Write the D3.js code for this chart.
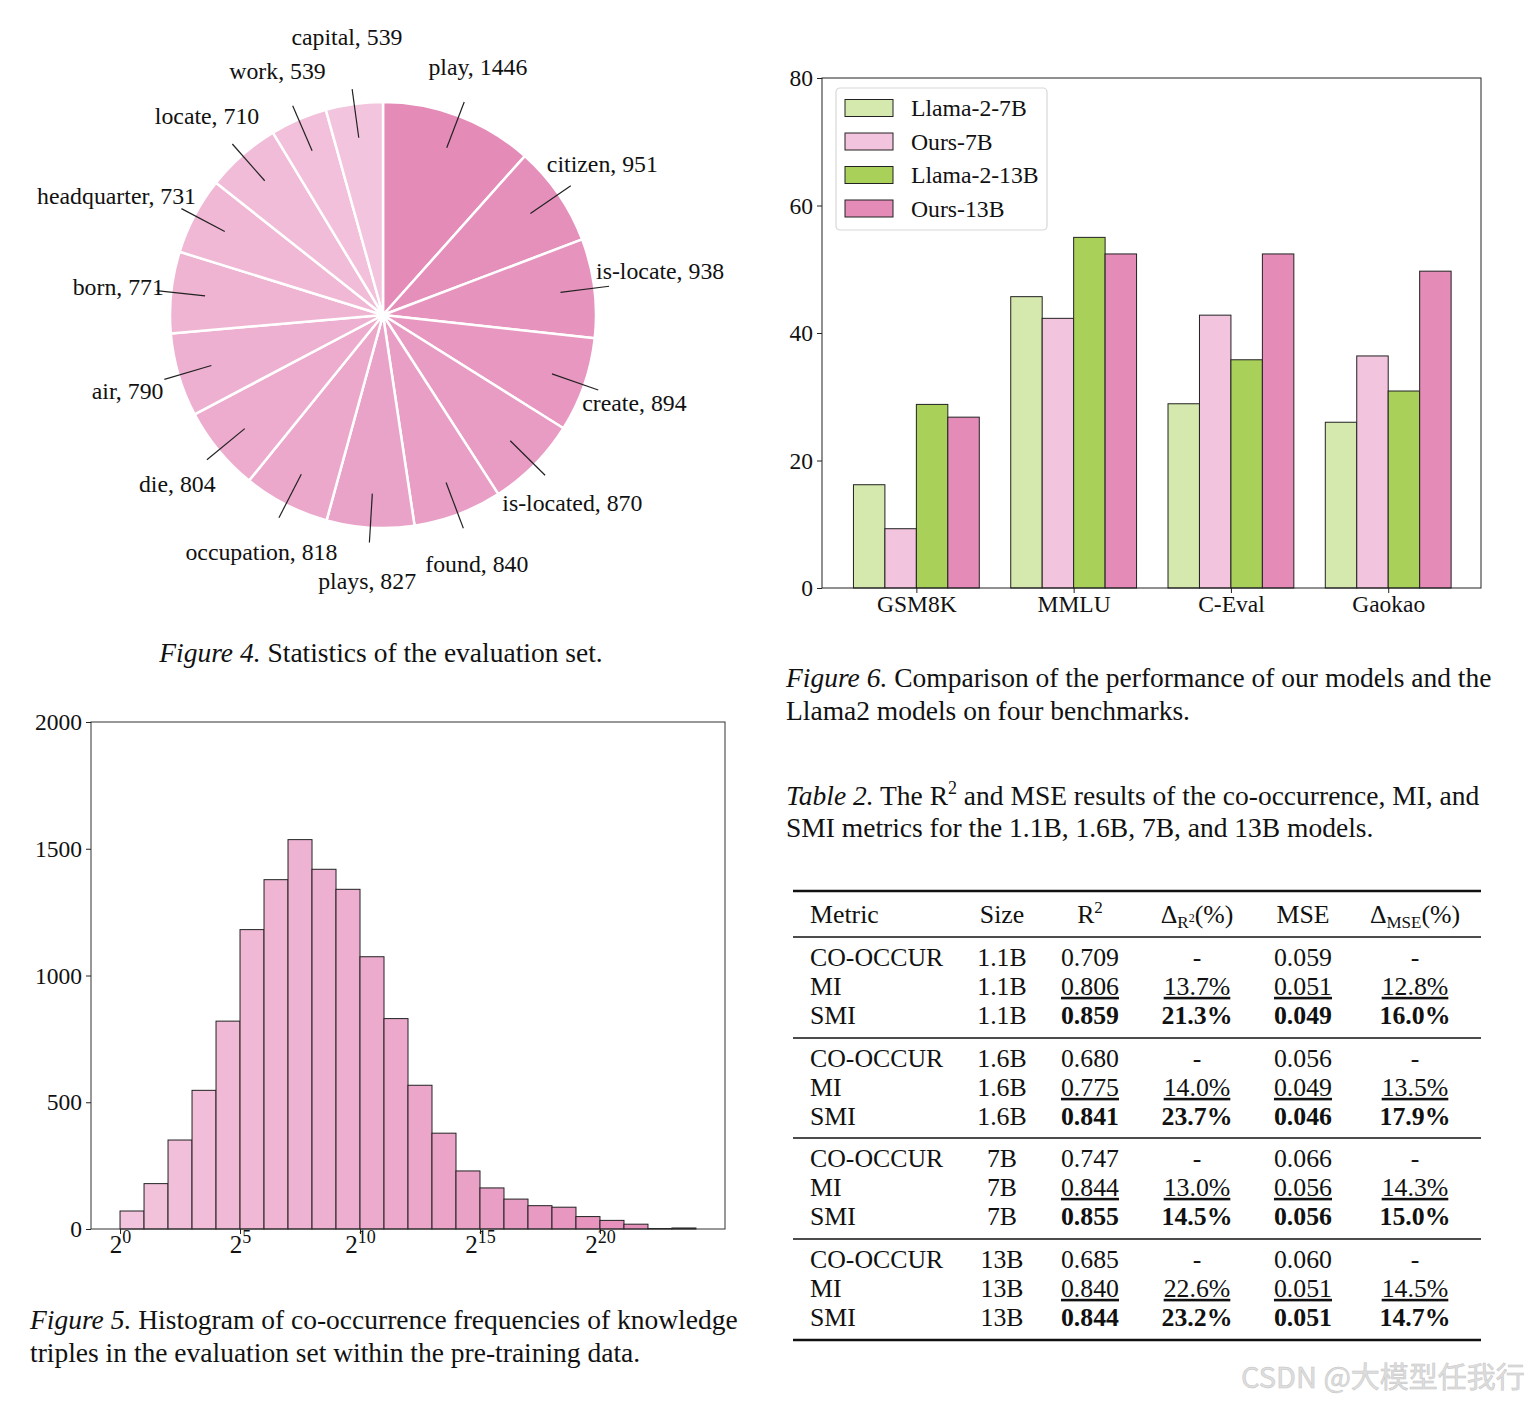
<!DOCTYPE html>
<html>
<head>
<meta charset="utf-8">
<script src="https://cdn.jsdelivr.net/npm/d3@7"></script>
<style>
  body { margin: 0; background: #fff; }
  text { font-family: "Liberation Serif", "Times New Roman", serif; fill: #111; }
</style>
</head>
<body>
<div id="d3id"></div>
<script>
// Figure 4 data
var pieLabels = ["play", "citizen", "is-locate", "create", "is-located", "found", "plays",
  "occupation", "die", "air", "born", "headquarter", "locate", "work", "capital"];
var pieValues = [1446, 951, 938, 894, 870, 840, 827, 818, 804, 790, 771, 731, 710, 539, 539];

// Figure 6 data
var benchmarks = ["GSM8K", "MMLU", "C-Eval", "Gaokao"];
var seriesNames = ["Llama-2-7B", "Ours-7B", "Llama-2-13B", "Ours-13B"];
var llama7 = [16.2, 45.7, 28.9, 26.0];
var ours7 = [9.3, 42.3, 42.8, 36.4];
var llama13 = [28.8, 55.0, 35.8, 30.9];
var ours13 = [26.8, 52.4, 52.4, 49.7];
var barTicks = [0, 20, 40, 60, 80];

// Figure 5 data (bins are [2^k, 2^(k+1)))
var histExp = [0, 1, 2, 3, 4, 5, 6, 7, 8, 9, 10, 11, 12, 13, 14, 15, 16, 17, 18, 19, 20, 21, 22, 23];
var histCounts = [71, 179, 351, 547, 820, 1181, 1378, 1536, 1419, 1340, 1074, 830, 567, 378,
  229, 162, 118, 92, 86, 49, 34, 19, 2, 4];
var histYTicks = [0, 500, 1000, 1500, 2000];
var histXTicks = [0, 5, 10, 15, 20];

// Table 2 data
var tableMetrics = ["CO-OCCUR", "MI", "SMI"];
var tableSizes = ["1.1B", "1.6B", "7B", "13B"];
var tableR2 = [["0.709", "0.806", "0.859"], ["0.680", "0.775", "0.841"], ["0.747", "0.844", "0.855"], ["0.685", "0.840", "0.844"]];
var tableDR2 = [["-", "13.7%", "21.3%"], ["-", "14.0%", "23.7%"], ["-", "13.0%", "14.5%"], ["-", "22.6%", "23.2%"]];
var tableMSE = [["0.059", "0.051", "0.049"], ["0.056", "0.049", "0.046"], ["0.066", "0.056", "0.056"], ["0.060", "0.051", "0.051"]];
var tableDMSE = [["-", "12.8%", "16.0%"], ["-", "13.5%", "17.9%"], ["-", "14.3%", "15.0%"], ["-", "14.5%", "14.7%"]];

var pinkDark = "#e48bb8", pinkLight = "#f3c4dd";
var barColors = ["#d5e8ae", "#f3c4dd", "#a9d15a", "#e48bb8"];
var capSize = 27.5, tickSize = 23.5;

var svg = d3.select("#d3id")
  .append("svg")
  .attr("width", 1534)
  .attr("height", 1403);

svg.append("rect").attr("width", 1534).attr("height", 1403).attr("fill", "#fff");

/* ---------- Figure 4: pie ---------- */
var pieCx = 383, pieCy = 315, pieR = 213;
var labelNudge = { "capital": [0, -15], "headquarter": [-31, 5], "is-locate": [13, -11] };

var pieColor = d3.scaleLinear()
  .domain([0, pieValues.length - 1])
  .range([pinkDark, pinkLight])
  .interpolate(d3.interpolateRgb);

var arcs = d3.pie().sort(null)(pieValues);
var arcGen = d3.arc().innerRadius(0).outerRadius(pieR);

var pieG = svg.append("g").attr("transform", `translate(${pieCx},${pieCy})`);

pieG.selectAll("path")
  .data(arcs)
  .join("path")
  .attr("d", arcGen)
  .attr("fill", (d, i) => pieColor(i))
  .attr("stroke", "#fff")
  .attr("stroke-width", 2.5)
  .attr("stroke-linejoin", "round");

function polar(a, r) {
  return [Math.sin(a) * r, -Math.cos(a) * r];
}

pieG.selectAll("line.leader")
  .data(arcs)
  .join("line")
  .attr("class", "leader")
  .each(function (d) {
    var mid = (d.startAngle + d.endAngle) / 2;
    var p0 = polar(mid, pieR * 0.84), p1 = polar(mid, pieR * 1.07);
    d3.select(this).attr("x1", p0[0]).attr("y1", p0[1]).attr("x2", p1[0]).attr("y2", p1[1]);
  })
  .attr("stroke", "#222")
  .attr("stroke-width", 1.2);

pieG.selectAll("text.plabel")
  .data(arcs)
  .join("text")
  .attr("class", "plabel")
  .attr("text-anchor", "middle")
  .attr("dy", "0.35em")
  .attr("font-size", 23.8)
  .each(function (d, i) {
    var mid = (d.startAngle + d.endAngle) / 2;
    var p = polar(mid, pieR * 1.25);
    var n = labelNudge[pieLabels[i]] || [0, 0];
    d3.select(this).attr("x", p[0] + n[0]).attr("y", p[1] + n[1]);
  })
  .text((d, i) => `${pieLabels[i]}, ${pieValues[i]}`);

svg.append("text")
  .attr("x", 381).attr("y", 662)
  .attr("text-anchor", "middle")
  .attr("font-size", capSize)
  .call((t) => {
    t.append("tspan").attr("font-style", "italic").text("Figure 4.");
    t.append("tspan").text(" Statistics of the evaluation set.");
  });

/* ---------- Figure 6: grouped bars ---------- */
var bx = d3.scaleLinear().domain([-0.6, 3.59]).range([822, 1481]);
var by = d3.scaleLinear().domain([0, 80]).range([588, 78]);
var seriesValues = [llama7, ours7, llama13, ours13];
var barW = 0.2;

var barG = svg.append("g");

seriesValues.forEach((vals, s) => {
  barG.selectAll(".bar.s" + s)
    .data(vals)
    .join("rect")
    .attr("class", "bar s" + s)
    .attr("x", (d, i) => bx(i + (s - 1.5) * barW - barW / 2))
    .attr("width", bx(barW) - bx(0))
    .attr("y", (d) => by(d))
    .attr("height", (d) => by(0) - by(d))
    .attr("fill", barColors[s])
    .attr("stroke", "#222")
    .attr("stroke-width", 1);
});

barG.append("rect")
  .attr("x", 822).attr("y", 78).attr("width", 659).attr("height", 510)
  .attr("fill", "none").attr("stroke", "#222").attr("stroke-width", 1);

var bYAxis = barG.append("g")
  .attr("transform", "translate(822,0)")
  .call(d3.axisLeft(by).tickValues(barTicks).tickSize(5).tickPadding(4).tickSizeOuter(0));
var bXAxis = barG.append("g")
  .attr("transform", "translate(0,588)")
  .call(d3.axisBottom(bx).tickValues([0, 1, 2, 3]).tickFormat((d) => benchmarks[d])
    .tickSize(5).tickPadding(2).tickSizeOuter(0));

[bYAxis, bXAxis].forEach((a) => {
  a.select(".domain").remove();
  a.selectAll("line").attr("stroke", "#222");
  a.selectAll("text").attr("font-size", tickSize).attr("font-family", "Liberation Serif").style("fill", "#111");
});

// legend
var leg = barG.append("g").attr("transform", "translate(836,88)");
leg.append("rect")
  .attr("width", 211).attr("height", 142).attr("rx", 4)
  .attr("fill", "#fff").attr("stroke", "#d8d8d8").attr("stroke-width", 1.2);
var legItem = leg.selectAll("g.item")
  .data(seriesNames)
  .join("g")
  .attr("class", "item")
  .attr("transform", (d, i) => `translate(0,${20 + i * 33.5})`);
legItem.append("rect")
  .attr("x", 9).attr("y", -8.5).attr("width", 48).attr("height", 17)
  .attr("fill", (d, i) => barColors[i]).attr("stroke", "#222").attr("stroke-width", 1);
legItem.append("text")
  .attr("x", 75).attr("dy", "0.35em").attr("font-size", 23.7)
  .text((d) => d);

svg.append("g")
  .selectAll("text")
  .data(["Comparison of the performance of our models and the", "Llama2 models on four benchmarks."])
  .join("text")
  .attr("x", 786).attr("y", (d, i) => 687 + i * 33)
  .attr("font-size", capSize)
  .each(function (d, i) {
    var t = d3.select(this);
    if (i == 0) t.append("tspan").attr("font-style", "italic").text("Figure 6. ");
    t.append("tspan").text(d);
  });

/* ---------- Figure 5: histogram ---------- */
var hx = d3.scaleLog().base(2).domain([Math.pow(2, -1.21), Math.pow(2, 25.21)]).range([91, 725]);
var hy = d3.scaleLinear().domain([0, 2000]).range([1229, 722]);
var histColor = d3.scaleLinear()
  .domain([0, histExp.length - 1])
  .range([pinkLight, pinkDark])
  .interpolate(d3.interpolateRgb);

var histG = svg.append("g");
histG.selectAll("rect.hbar")
  .data(histCounts)
  .join("rect")
  .attr("class", "hbar")
  .attr("x", (d, i) => hx(Math.pow(2, histExp[i])))
  .attr("width", (d, i) => hx(Math.pow(2, histExp[i] + 1)) - hx(Math.pow(2, histExp[i])))
  .attr("y", (d) => hy(d))
  .attr("height", (d) => hy(0) - hy(d))
  .attr("fill", (d, i) => histColor(i))
  .attr("stroke", "#222")
  .attr("stroke-width", 1);

histG.append("rect")
  .attr("x", 91).attr("y", 722).attr("width", 634).attr("height", 507)
  .attr("fill", "none").attr("stroke", "#333").attr("stroke-width", 1);

var hYAxis = histG.append("g")
  .attr("transform", "translate(91,0)")
  .call(d3.axisLeft(hy).tickValues(histYTicks).tickFormat(d3.format("d"))
    .tickSize(5).tickPadding(4).tickSizeOuter(0));
var hXAxis = histG.append("g")
  .attr("transform", "translate(0,1229)")
  .call(d3.axisBottom(hx).tickValues(histXTicks.map((k) => Math.pow(2, k)))
    .tickFormat("").tickSize(5).tickSizeOuter(0));

[hYAxis, hXAxis].forEach((a) => {
  a.select(".domain").remove();
  a.selectAll("line").attr("stroke", "#222");
  a.selectAll("text").attr("font-size", tickSize).attr("font-family", "Liberation Serif").style("fill", "#111");
});

// 2^k labels with superscripts
hXAxis.selectAll("g.tick")
  .append("text")
  .attr("y", 24)
  .attr("text-anchor", "middle")
  .attr("font-size", 25)
  .each(function (d) {
    var t = d3.select(this);
    t.append("tspan").text("2");
    t.append("tspan").attr("font-size", 18).attr("dy", -10).text(Math.round(Math.log2(d)));
  });

svg.append("g")
  .selectAll("text")
  .data(["Histogram of co-occurrence frequencies of knowledge", "triples in the evaluation set within the pre-training data."])
  .join("text")
  .attr("x", 30).attr("y", (d, i) => 1329 + i * 33)
  .attr("font-size", capSize)
  .each(function (d, i) {
    var t = d3.select(this);
    if (i == 0) t.append("tspan").attr("font-style", "italic").text("Figure 5. ");
    t.append("tspan").text(d);
  });

/* ---------- Table 2 ---------- */
var cap = svg.append("g").attr("font-size", capSize);
cap.append("text").attr("x", 786).attr("y", 805)
  .call((t) => {
    t.append("tspan").attr("font-style", "italic").text("Table 2.");
    t.append("tspan").text(" The R");
    t.append("tspan").attr("font-size", 18).attr("dy", -11).text("2");
    t.append("tspan").attr("dy", 11).text(" and MSE results of the co-occurrence, MI, and");
  });
cap.append("text").attr("x", 786).attr("y", 837)
  .text("SMI metrics for the 1.1B, 1.6B, 7B, and 13B models.");

var tbl = svg.append("g");
var colX = [810, 1002, 1090, 1197, 1303, 1415];
var ruleX0 = 793, ruleX1 = 1481;
var rules = [[891, 2.5], [937, 1.5], [1038, 1.5], [1138, 1.5], [1239, 1.5], [1340, 2.5]];
var tblSize = 25.8;

tbl.selectAll("line.rule")
  .data(rules)
  .join("line")
  .attr("class", "rule")
  .attr("x1", ruleX0).attr("x2", ruleX1)
  .attr("y1", (d) => d[0]).attr("y2", (d) => d[0])
  .attr("stroke", "#111").attr("stroke-width", (d) => d[1]);

// header
var hdr = tbl.append("g").attr("font-size", tblSize);
hdr.append("text").attr("x", colX[0]).attr("y", 923).text("Metric");
hdr.append("text").attr("x", colX[1]).attr("y", 923).attr("text-anchor", "middle").text("Size");
hdr.append("text").attr("x", colX[2]).attr("y", 923).attr("text-anchor", "middle")
  .call((t) => {
    t.append("tspan").text("R");
    t.append("tspan").attr("font-size", 17).attr("dy", -10).text("2");
  });
hdr.append("text").attr("x", colX[3]).attr("y", 923).attr("text-anchor", "middle")
  .call((t) => {
    t.append("tspan").text("\u0394");
    t.append("tspan").attr("font-size", 17).attr("dy", 5).text("R");
    t.append("tspan").attr("font-size", 12).attr("dy", -6).text("2");
    t.append("tspan").attr("dy", 1).text("(%)");
  });
hdr.append("text").attr("x", colX[4]).attr("y", 923).attr("text-anchor", "middle").text("MSE");
hdr.append("text").attr("x", colX[5]).attr("y", 923).attr("text-anchor", "middle")
  .call((t) => {
    t.append("tspan").text("\u0394");
    t.append("tspan").attr("font-size", 17).attr("dy", 5).text("MSE");
    t.append("tspan").attr("dy", -5).text("(%)");
  });

var groupY = [966, 1067, 1167, 1268];
var rowStep = 28.8;

tableSizes.forEach((size, g) => {
  tableMetrics.forEach((m, r) => {
    var y = groupY[g] + r * rowStep;
    var row = tbl.append("g").attr("font-size", tblSize);
    var cells = [tableR2[g][r], tableDR2[g][r], tableMSE[g][r], tableDMSE[g][r]];
    row.append("text").attr("x", colX[0]).attr("y", y).text(m);
    row.append("text").attr("x", colX[1]).attr("y", y).attr("text-anchor", "middle").text(size);
    cells.forEach((c, k) => {
      row.append("text")
        .attr("x", colX[k + 2]).attr("y", y)
        .attr("text-anchor", "middle")
        .attr("font-weight", r == 2 ? "bold" : "normal")
        .style("text-decoration", r == 1 ? "underline" : "none")
        .text(c);
    });
  });
});

// watermark
svg.append("text")
  .attr("x", 1241).attr("y", 1388)
  .attr("font-size", 29)
  .style("font-family", "'Noto Sans CJK SC', 'Noto Sans', sans-serif")
  .style("fill", "#dedede")
  .style("stroke", "#c4c4c4")
  .style("stroke-width", 0.5)
  .text("CSDN @大模型任我行");
</script>
</body>
</html>
